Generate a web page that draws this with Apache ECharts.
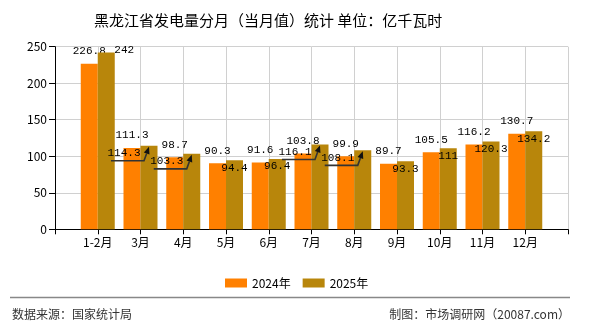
<!DOCTYPE html>
<html>
<head>
<meta charset="utf-8">
<script src="https://cdn.jsdelivr.net/npm/echarts@6/dist/echarts.min.js"></script>
<style>
html,body{margin:0;padding:0;background:#fff;}
#chart{width:590px;height:330px;}
</style>
</head>
<body>
<div id="chart"></div>
<script>
const categories = ['1-2月','3月','4月','5月','6月','7月','8月','9月','10月','11月','12月'];
const values2024 = [226.8,111.3,98.7,90.3,91.6,103.8,99.9,89.7,105.5,116.2,130.7];
const values2025 = [242,114.3,103.3,94.4,96.4,116.1,108.1,93.3,111,120.3,134.2];
const seriesNames = ['2024年','2025年'];
const yMin = 0, yMax = 250, yInterval = 50;
const leaderIdx = [1,2,5,6];

const FONT = "'Noto Sans CJK SC', 'Noto Sans', sans-serif";
const MONO = "'Liberation Mono', 'DejaVu Sans Mono', monospace";

// padded category axis so the 11 months sit on inner ticks
const axisCats = [''].concat(categories, ['']);
const pad = arr => [null].concat(arr, [null]);

const data2025 = pad(values2025).map((v, i) => {
  if (v === null) return null;
  const k = i - 1;
  if (leaderIdx.indexOf(k) >= 0) {
    return { value: v, label: { offset: [-25, 0] } };
  }
  if (k === 0) {
    return { value: v, label: { offset: [18, -10] } };
  }
  return v;
});

const leaderData = leaderIdx.map(k => [k + 1, values2025[k]]);

const chart = echarts.init(document.getElementById('chart'), null, {renderer: 'canvas'});
chart.setOption({
  animation: false,
  backgroundColor: '#fff',
  title: {
    text: '黑龙江省发电量分月（当月值）统计 单位：亿千瓦时',
    left: 89, top: 8,
    textStyle: { fontFamily: FONT, fontSize: 15, fontWeight: 'normal', color: '#000' }
  },
  legend: {
    data: seriesNames,
    left: 220, top: 272,
    itemWidth: 22, itemHeight: 9, itemGap: 12,
    textStyle: { fontFamily: FONT, fontSize: 12, color: '#000' },
    icon: 'rect'
  },
  grid: { left: 55, right: 22, top: 46.7, bottom: 100.7, containLabel: false },
  xAxis: {
    type: 'category',
    data: axisCats,
    boundaryGap: false,
    axisLine: { lineStyle: { color: '#000', width: 1 } },
    axisTick: { show: true, length: 5, lineStyle: { color: '#000' } },
    axisLabel: { fontFamily: FONT, fontSize: 12, color: '#000', margin: 7, interval: 0 },
    splitLine: { show: true, lineStyle: { color: '#d0d0d0', width: 1 } }
  },
  yAxis: {
    type: 'value',
    min: yMin, max: yMax, interval: yInterval,
    axisLine: { show: true, lineStyle: { color: '#000', width: 1 } },
    axisTick: { show: true, length: 6, lineStyle: { color: '#000' } },
    axisLabel: { fontFamily: FONT, fontSize: 12, color: '#000', margin: 8 },
    splitLine: { show: true, lineStyle: { color: '#d0d0d0', width: 1 } }
  },
  series: [
    {
      name: seriesNames[0], type: 'bar', data: pad(values2024),
      barWidth: 17, barGap: '0%',
      itemStyle: { color: '#FF8000' },
      label: { show: true, position: 'top', distance: 7, fontFamily: MONO, fontSize: 11, color: '#000' }
    },
    {
      name: seriesNames[1], type: 'bar', data: data2025,
      barWidth: 17, barGap: '0%',
      itemStyle: { color: '#B8860B' },
      label: { show: true, position: 'insideTop', distance: 2, fontFamily: MONO, fontSize: 11, color: '#000' },
      z: 3
    },
    {
      type: 'custom', name: 'leader', data: leaderData, silent: true, z: 4,
      renderItem: function (params, api) {
        const p = api.coord([api.value(0), api.value(1)]);
        const cx = p[0] + 8.5;
        const ty = p[1];
        const y = ty + 15;
        const tip = [cx, ty + 1];
        const from = [cx - 5, y];
        const dx = tip[0] - from[0], dy = tip[1] - from[1];
        const len = Math.sqrt(dx*dx + dy*dy);
        const ux = dx/len, uy = dy/len;
        const bx = tip[0] - ux*7, by = tip[1] - uy*7;
        return {
          type: 'group',
          children: [
            { type: 'polyline', shape: { points: [[cx - 38, y], [cx - 5, y], [bx, by]] },
              style: { stroke: '#333', lineWidth: 1.6, fill: null } },
            { type: 'polygon', shape: { points: [tip, [bx - uy*3, by + ux*3], [bx + uy*3, by - ux*3]] },
              style: { fill: '#111', stroke: null } }
          ]
        };
      }
    }
  ],
  graphic: [
    { type: 'line', shape: { x1: 10, y1: 297.5, x2: 570, y2: 297.5 }, style: { stroke: '#888', lineWidth: 1.5 } },
    { type: 'text', left: 12, top: 308, style: { text: '数据来源：国家统计局', fontFamily: FONT, fontSize: 12, fill: '#333' } },
    { type: 'text', right: 20, top: 308, style: { text: '制图：市场调研网（20087.com）', fontFamily: FONT, fontSize: 12, fill: '#333' } }
  ]
});
</script>
</body>
</html>
